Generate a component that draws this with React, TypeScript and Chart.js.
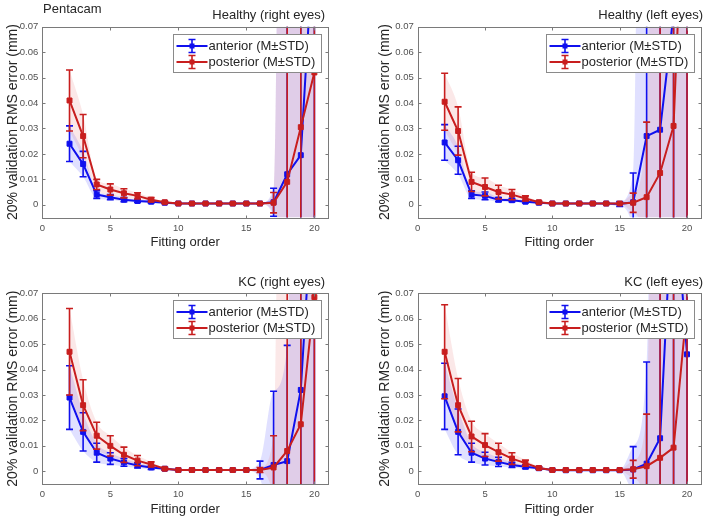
import React, { useEffect, useRef } from 'react';
import { Chart, registerables } from 'chart.js';

Chart.register(...registerables);

// ---------- data ----------
const fittingOrders = [2, 3, 4, 5, 6, 7, 8, 9, 10, 11, 12, 13, 14, 15, 16, 17, 18, 19, 20];
const xTickValues = [0, 5, 10, 15, 20];
const yTickValues = [0, 0.01, 0.02, 0.03, 0.04, 0.05, 0.06, 0.07];
const seriesLabels = ['anterior (M±STD)', 'posterior (M±STD)'];
const panelTitles = ['Healthy (right eyes)', 'Healthy (left eyes)', 'KC (right eyes)', 'KC (left eyes)'];
const figureLabel = 'Pentacam';
const xAxisLabel = 'Fitting order';
const yAxisLabel = '20% validation RMS error (mm)';

// Healthy (right eyes)
const healthyRightAnteriorMean = [0.024, 0.016, 0.004, 0.003, 0.002, 0.0015, 0.0012, 0.0008, 0.0005, 0.0005, 0.0005, 0.0005, 0.0005, 0.0005, 0.0005, 0.001, 0.012, 0.0195, 0.11];
const healthyRightAnteriorStd = [0.007, 0.005, 0.0015, 0.001, 0.0008, 0.0006, 0.0005, 0.0003, 0.0002, 0.0002, 0.0002, 0.0002, 0.0002, 0.0002, 0.0002, 0.0055, 0.5, 0.5, 0.5];
const healthyRightPosteriorMean = [0.041, 0.027, 0.008, 0.006, 0.0045, 0.0035, 0.002, 0.001, 0.0005, 0.0005, 0.0005, 0.0005, 0.0005, 0.0005, 0.0005, 0.0008, 0.009, 0.0305, 0.052];
const healthyRightPosteriorStd = [0.012, 0.0085, 0.002, 0.0022, 0.0018, 0.0012, 0.0008, 0.0004, 0.0002, 0.0002, 0.0002, 0.0002, 0.0002, 0.0002, 0.0002, 0.004, 0.5, 0.5, 0.5];

// Healthy (left eyes)
const healthyLeftAnteriorMean = [0.0245, 0.0175, 0.004, 0.0035, 0.002, 0.0018, 0.0012, 0.0008, 0.0005, 0.0005, 0.0005, 0.0005, 0.0005, 0.0003, 0.001, 0.027, 0.0295, 0.075, 0.15];
const healthyLeftAnteriorStd = [0.007, 0.0055, 0.0015, 0.0015, 0.0008, 0.0006, 0.0005, 0.0003, 0.0002, 0.0002, 0.0002, 0.0002, 0.0002, 0.001, 0.0115, 0.5, 0.5, 0.5, 0.5];
const healthyLeftPosteriorMean = [0.0405, 0.029, 0.009, 0.007, 0.005, 0.004, 0.0025, 0.001, 0.0005, 0.0005, 0.0005, 0.0005, 0.0005, 0.0005, 0.0008, 0.003, 0.0125, 0.031, 0.16];
const healthyLeftPosteriorStd = [0.0112, 0.0095, 0.0038, 0.0035, 0.0027, 0.002, 0.001, 0.0005, 0.0002, 0.0002, 0.0002, 0.0002, 0.0002, 0.0002, 0.0038, 0.0295, 0.5, 0.5, 0.5];

// KC (right eyes)
const kcRightAnteriorMean = [0.029, 0.0155, 0.0073, 0.005, 0.0035, 0.0023, 0.0015, 0.001, 0.0005, 0.0005, 0.0005, 0.0005, 0.0005, 0.0005, 0.0005, 0.0025, 0.004, 0.032, 0.12];
const kcRightAnteriorStd = [0.0125, 0.0075, 0.0037, 0.0023, 0.0015, 0.001, 0.0008, 0.0005, 0.0002, 0.0002, 0.0002, 0.0002, 0.0002, 0.0002, 0.0035, 0.029, 0.0455, 0.5, 0.5];
const kcRightPosteriorMean = [0.047, 0.026, 0.014, 0.01, 0.0065, 0.0042, 0.0027, 0.001, 0.0005, 0.0005, 0.0005, 0.0005, 0.0005, 0.0005, 0.0005, 0.0015, 0.008, 0.0185, 0.0685];
const kcRightPosteriorStd = [0.017, 0.01, 0.0053, 0.004, 0.003, 0.002, 0.001, 0.0005, 0.0002, 0.0002, 0.0002, 0.0002, 0.0002, 0.0002, 0.001, 0.0125, 0.5, 0.5, 0.5];

// KC (left eyes)
const kcLeftAnteriorMean = [0.0295, 0.0155, 0.0073, 0.005, 0.0037, 0.0025, 0.0018, 0.0012, 0.0005, 0.0004, 0.0004, 0.0004, 0.0004, 0.0004, 0.0007, 0.003, 0.013, 0.117, 0.046];
const kcLeftAnteriorStd = [0.013, 0.009, 0.0037, 0.0025, 0.0018, 0.001, 0.0008, 0.0005, 0.0003, 0.0002, 0.0002, 0.0002, 0.0002, 0.0002, 0.009, 0.04, 0.5, 0.5, 0.5];
const kcLeftPosteriorMean = [0.047, 0.026, 0.0137, 0.0103, 0.0075, 0.005, 0.0032, 0.0013, 0.0005, 0.0005, 0.0005, 0.0005, 0.0005, 0.0005, 0.0008, 0.002, 0.0053, 0.0093, 0.065];
const kcLeftPosteriorStd = [0.0185, 0.0105, 0.006, 0.0045, 0.0035, 0.0023, 0.0012, 0.0005, 0.0002, 0.0002, 0.0002, 0.0002, 0.0002, 0.0002, 0.0035, 0.0205, 0.5, 0.5, 0.5];

// ---------- styles ----------
const FONT = '"Liberation Sans", Arial, Helvetica, sans-serif';
const BLUE = '#1010ee';
const RED = '#c81e1e';
const BLUE_BAND = 'rgba(100, 100, 255, 0.2)';
const RED_BAND = 'rgba(225, 80, 80, 0.13)';
const AXIS_COLOR = '#7a7a7a';
const TICK_TEXT = '#505050';
const TEXT = '#262626';

type Geometry = {
  x: number; y: number; w: number; h: number;
  left: number; right: number; top: number; bottom: number;
  yTitleX: number; titleRight: number;
};

type PanelProps = {
  geom: Geometry;
  title: string;
  antMean: number[]; antStd: number[];
  postMean: number[]; postStd: number[];
  showFigureLabel?: boolean;
};

function Panel({ geom, title, antMean, antStd, postMean, postStd, showFigureLabel }: PanelProps) {
  const ref = useRef<HTMLCanvasElement | null>(null);

  useEffect(() => {
    const canvas = ref.current;
    if (!canvas) return;

    const pts = (vals: number[]) => fittingOrders.map((x, i) => ({ x, y: vals[i] }));
    const band = (m: number[], s: number[], sign: number) => fittingOrders.map((x, i) => ({ x, y: m[i] + sign * s[i] }));

    const bandBase = {
      borderWidth: 0,
      pointRadius: 0,
      pointHoverRadius: 0,
      cubicInterpolationMode: 'monotone' as const,
    };

    const drawErrorBars = (chart: any, index: number) => {
      const ds: any = chart.data.datasets[index];
      if (!ds.errorBars) return;
      const meta = chart.getDatasetMeta(index);
      const yScale = chart.scales.y;
      const area = chart.chartArea;
      const ctx = chart.ctx;
      ctx.save();
      ctx.beginPath();
      ctx.rect(area.left, area.top, area.right - area.left, area.bottom - area.top);
      ctx.clip();
      ctx.strokeStyle = ds.borderColor;
      ctx.lineWidth = 1.6;
      const cap = 3.5;
      meta.data.forEach((pt: any, i: number) => {
        const m = ds.data[i].y;
        const s = ds.errorBars[i];
        const yt = yScale.getPixelForValue(m + s);
        const yb = yScale.getPixelForValue(m - s);
        ctx.beginPath();
        ctx.moveTo(pt.x, yt);
        ctx.lineTo(pt.x, yb);
        ctx.moveTo(pt.x - cap, yt);
        ctx.lineTo(pt.x + cap, yt);
        ctx.moveTo(pt.x - cap, yb);
        ctx.lineTo(pt.x + cap, yb);
        ctx.stroke();
      });
      ctx.restore();
    };

    const decorPlugin = {
      id: 'decor',
      afterDatasetDraw(chart: any, args: any) {
        drawErrorBars(chart, args.index);
      },
      afterDatasetsDraw(chart: any) {
        const { ctx, chartArea: a, scales } = chart;
        ctx.save();
        ctx.strokeStyle = AXIS_COLOR;
        ctx.lineWidth = 1;
        const L = Math.round(a.left) + 0.5, R = Math.round(a.right) + 0.5;
        const T = Math.round(a.top) + 0.5, B = Math.round(a.bottom) + 0.5;
        ctx.strokeRect(L, T, R - L, B - T);
        ctx.beginPath();
        const tl = 3;
        xTickValues.forEach((v) => {
          const px = Math.round(scales.x.getPixelForValue(v)) + 0.5;
          ctx.moveTo(px, B); ctx.lineTo(px, B - tl);
          ctx.moveTo(px, T); ctx.lineTo(px, T + tl);
        });
        yTickValues.forEach((v) => {
          const py = Math.round(scales.y.getPixelForValue(v)) + 0.5;
          ctx.moveTo(L, py); ctx.lineTo(L + tl, py);
          ctx.moveTo(R, py); ctx.lineTo(R - tl, py);
        });
        ctx.stroke();
        ctx.restore();
      },
      afterDraw(chart: any) {
        const { ctx, chartArea: a } = chart;
        ctx.save();
        // panel title
        ctx.fillStyle = TEXT;
        ctx.font = `13px ${FONT}`;
        ctx.textBaseline = 'middle';
        ctx.textAlign = 'right';
        ctx.fillText(title, geom.titleRight, a.top - 11);
        if (showFigureLabel) {
          ctx.textAlign = 'left';
          ctx.fillText(figureLabel, 43, 9);
        }
        // legend
        const lw = 148, lh = 38;
        const lx = Math.round(a.right - 7 - lw) + 0.5;
        const ly = Math.round(a.top + 7) + 0.5;
        ctx.fillStyle = '#ffffff';
        ctx.fillRect(lx, ly, lw, lh);
        ctx.strokeStyle = '#8a8a8a';
        ctx.lineWidth = 1;
        ctx.strokeRect(lx, ly, lw, lh);
        const colors = [BLUE, RED];
        seriesLabels.forEach((label, i) => {
          const cy = ly + 11.5 + i * 16;
          const c = colors[i];
          ctx.strokeStyle = c;
          ctx.fillStyle = c;
          ctx.lineWidth = 2;
          ctx.beginPath();
          ctx.moveTo(lx + 3, cy);
          ctx.lineTo(lx + 34, cy);
          ctx.stroke();
          const mx = lx + 18.5;
          ctx.lineWidth = 1.6;
          ctx.beginPath();
          ctx.moveTo(mx, cy - 6.5); ctx.lineTo(mx, cy + 6.5);
          ctx.moveTo(mx - 3.5, cy - 6.5); ctx.lineTo(mx + 3.5, cy - 6.5);
          ctx.moveTo(mx - 3.5, cy + 6.5); ctx.lineTo(mx + 3.5, cy + 6.5);
          ctx.stroke();
          ctx.fillRect(mx - 2.5, cy - 2.5, 5, 5);
          ctx.fillStyle = TEXT;
          ctx.font = `13px ${FONT}`;
          ctx.textAlign = 'left';
          ctx.textBaseline = 'middle';
          ctx.fillText(label, lx + 35, cy + 0.5);
        });
        ctx.restore();
      },
    };

    const lineBase = {
      borderWidth: 2,
      pointStyle: 'rect' as const,
      pointRadius: 3.5,
      pointHoverRadius: 3.5,
      pointBorderWidth: 1,
      tension: 0,
      fill: false,
    };

    const xTitleFontSize = 13;
    const yTitleFontSize = 14;
    const xTitleCenter = geom.bottom + 25;

    const chart = new Chart(canvas, {
      type: 'line',
      data: {
        datasets: [
          { ...bandBase, label: 'a+', data: band(antMean, antStd, 1), fill: false, order: 5 },
          { ...bandBase, label: 'a-', data: band(antMean, antStd, -1), fill: '-1', backgroundColor: BLUE_BAND, order: 4 },
          { ...bandBase, label: 'p+', data: band(postMean, postStd, 1), fill: false, order: 3 },
          { ...bandBase, label: 'p-', data: band(postMean, postStd, -1), fill: '-1', backgroundColor: RED_BAND, order: 2 },
          { ...lineBase, label: seriesLabels[0], data: pts(antMean), borderColor: BLUE, backgroundColor: BLUE, pointBackgroundColor: BLUE, pointBorderColor: BLUE, errorBars: antStd, order: 1 } as any,
          { ...lineBase, label: seriesLabels[1], data: pts(postMean), borderColor: RED, backgroundColor: RED, pointBackgroundColor: RED, pointBorderColor: RED, errorBars: postStd, order: 0 } as any,
        ],
      },
      options: {
        animation: false,
        responsive: false,
        maintainAspectRatio: false,
        events: [],
        layout: {
          padding: { left: 0, top: geom.top, right: geom.w - geom.right, bottom: 0 },
        },
        plugins: {
          legend: { display: false },
          title: { display: false },
          tooltip: { enabled: false },
        },
        scales: {
          x: {
            type: 'linear',
            min: 0,
            max: 21,
            grid: { display: false, drawTicks: false },
            border: { display: false },
            afterBuildTicks: (scale: any) => {
              scale.ticks = xTickValues.map((v) => ({ value: v }));
            },
            afterFit: (scale: any) => {
              scale.height = geom.h - geom.bottom;
            },
            ticks: {
              padding: 5,
              color: TICK_TEXT,
              font: { family: FONT, size: 9.5 },
              maxRotation: 0,
              autoSkip: false,
              callback: (v: any) => String(v),
            },
            title: {
              display: true,
              text: xAxisLabel,
              color: TEXT,
              font: { family: FONT, size: xTitleFontSize },
              padding: { top: 0, bottom: geom.h - xTitleCenter - (xTitleFontSize * 1.2) / 2 },
            },
          },
          y: {
            type: 'linear',
            min: -0.005,
            max: 0.07,
            grid: { display: false, drawTicks: false },
            border: { display: false },
            afterBuildTicks: (scale: any) => {
              scale.ticks = yTickValues.map((v) => ({ value: v }));
            },
            afterFit: (scale: any) => {
              scale.width = geom.left;
            },
            ticks: {
              padding: 4,
              color: TICK_TEXT,
              font: { family: FONT, size: 9.5 },
              autoSkip: false,
              callback: (v: any) => (Math.abs(v) < 1e-9 ? '0' : Number(v).toFixed(2)),
            },
            title: {
              display: true,
              text: yAxisLabel,
              color: TEXT,
              font: { family: FONT, size: yTitleFontSize },
              padding: { top: geom.yTitleX - (yTitleFontSize * 1.2) / 2, bottom: 0 },
            },
          },
        },
      },
      plugins: [decorPlugin],
    } as any);

    return () => chart.destroy();
  }, [geom, title, antMean, antStd, postMean, postStd, showFigureLabel]);

  return (
    <div style={{ position: 'absolute', left: geom.x, top: geom.y, width: geom.w, height: geom.h }}>
      <canvas ref={ref} width={geom.w} height={geom.h} style={{ width: geom.w, height: geom.h, display: 'block' }} />
    </div>
  );
}

const geomTL: Geometry = { x: 0, y: 0, w: 352, h: 260, left: 42.3, right: 328, top: 26.7, bottom: 217.5, yTitleX: 13.3, titleRight: 325 };
const geomTR: Geometry = { x: 352, y: 0, w: 353, h: 260, left: 65.7, right: 350, top: 26.7, bottom: 217.5, yTitleX: 33.3, titleRight: 351 };
const geomBL: Geometry = { x: 0, y: 260, w: 352, h: 259, left: 42.3, right: 328, top: 33.3, bottom: 224, yTitleX: 13.3, titleRight: 325 };
const geomBR: Geometry = { x: 352, y: 260, w: 353, h: 259, left: 65.7, right: 350, top: 33.3, bottom: 224, yTitleX: 33.3, titleRight: 351 };

export default function App() {
  return (
    <div style={{ position: 'fixed', left: 0, top: 0, width: 705, height: 519, background: '#ffffff', overflow: 'hidden' }}>
      <Panel geom={geomTL} title={panelTitles[0]} antMean={healthyRightAnteriorMean} antStd={healthyRightAnteriorStd} postMean={healthyRightPosteriorMean} postStd={healthyRightPosteriorStd} showFigureLabel />
      <Panel geom={geomTR} title={panelTitles[1]} antMean={healthyLeftAnteriorMean} antStd={healthyLeftAnteriorStd} postMean={healthyLeftPosteriorMean} postStd={healthyLeftPosteriorStd} />
      <Panel geom={geomBL} title={panelTitles[2]} antMean={kcRightAnteriorMean} antStd={kcRightAnteriorStd} postMean={kcRightPosteriorMean} postStd={kcRightPosteriorStd} />
      <Panel geom={geomBR} title={panelTitles[3]} antMean={kcLeftAnteriorMean} antStd={kcLeftAnteriorStd} postMean={kcLeftPosteriorMean} postStd={kcLeftPosteriorStd} />
    </div>
  );
}
